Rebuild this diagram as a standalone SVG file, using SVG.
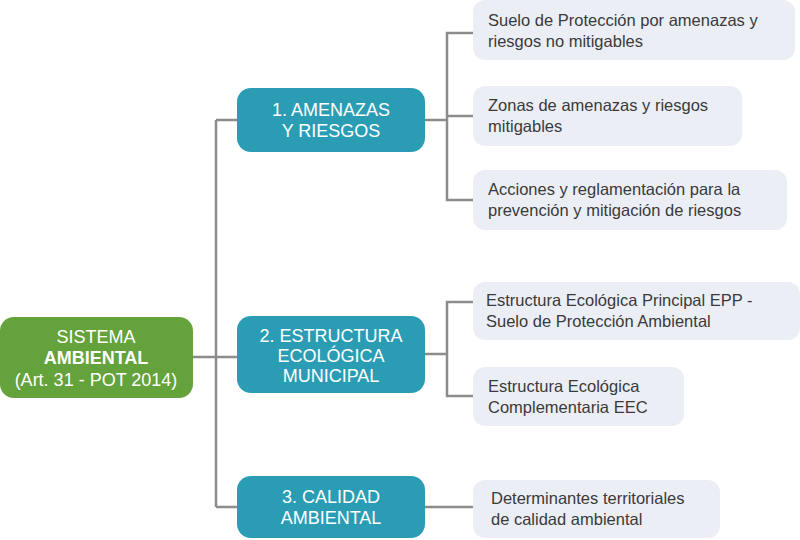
<svg xmlns="http://www.w3.org/2000/svg" width="800" height="540" viewBox="0 0 800 540">
<style>
.root{fill:#64a23b}
.cat{fill:#2a9db5}
.leaf{fill:#eceef6}
.wt{fill:#fff;font-family:"Liberation Sans",Arial,sans-serif;font-size:18px;text-anchor:middle}
.lt{fill:#3a3a3a;font-family:"Liberation Sans",Arial,sans-serif;font-size:16.5px}
.c{fill:none;stroke:#8c8c8c;stroke-width:2.5}
</style>
<g id="connectors">
<path class="c" d="M193 357H237M216 120V507M216 120H237M216 507H237"/>
<path class="c" d="M425 120H447M473 33H447V200H473M447 116H473"/>
<path class="c" d="M425 354H447M473 302H447V396H473"/>
<path class="c" d="M425 507H473"/>
</g>
<g id="root"><rect class="root" x="0" y="317" width="193" height="81" rx="14"/>
<text class="wt" x="96" y="343">SISTEMA</text>
<text class="wt" x="96" y="364" font-weight="bold">AMBIENTAL</text>
<text class="wt" x="96" y="386">(Art. 31 - POT 2014)</text></g>
<g id="c1"><rect class="cat" x="237" y="88" width="188" height="64" rx="14"/>
<text class="wt" x="331" y="116">1. AMENAZAS</text><text class="wt" x="331" y="137">Y RIESGOS</text></g>
<g id="c2"><rect class="cat" x="237" y="316" width="188" height="77" rx="14"/>
<text class="wt" x="331" y="342">2. ESTRUCTURA</text><text class="wt" x="331" y="362">ECOLÓGICA</text><text class="wt" x="331" y="382">MUNICIPAL</text></g>
<g id="c3"><rect class="cat" x="237" y="476" width="188" height="62" rx="14"/>
<text class="wt" x="331" y="503">3. CALIDAD</text><text class="wt" x="331" y="524">AMBIENTAL</text></g>
<g id="l1"><rect class="leaf" x="473" y="0" width="322" height="60" rx="12"/>
<text class="lt" x="488" y="26">Suelo de Protección por amenazas y</text><text class="lt" x="488" y="47">riesgos no mitigables</text></g>
<g id="l2"><rect class="leaf" x="473" y="86" width="269" height="60" rx="12"/>
<text class="lt" x="488" y="111">Zonas de amenazas y riesgos</text><text class="lt" x="488" y="132">mitigables</text></g>
<g id="l3"><rect class="leaf" x="473" y="170" width="314" height="60" rx="12"/>
<text class="lt" x="488" y="195">Acciones y reglamentación para la</text><text class="lt" x="488" y="216">prevención y mitigación de riesgos</text></g>
<g id="l4"><rect class="leaf" x="473" y="282" width="327" height="58" rx="12"/>
<text class="lt" x="486" y="306">Estructura Ecológica Principal EPP -</text><text class="lt" x="486" y="327">Suelo de Protección Ambiental</text></g>
<g id="l5"><rect class="leaf" x="473" y="367" width="211" height="59" rx="12"/>
<text class="lt" x="488" y="392">Estructura Ecológica</text><text class="lt" x="488" y="413">Complementaria EEC</text></g>
<g id="l6"><rect class="leaf" x="473" y="480" width="247" height="58" rx="12"/>
<text class="lt" x="491" y="504">Determinantes territoriales</text><text class="lt" x="491" y="525">de calidad ambiental</text></g>
</svg>
